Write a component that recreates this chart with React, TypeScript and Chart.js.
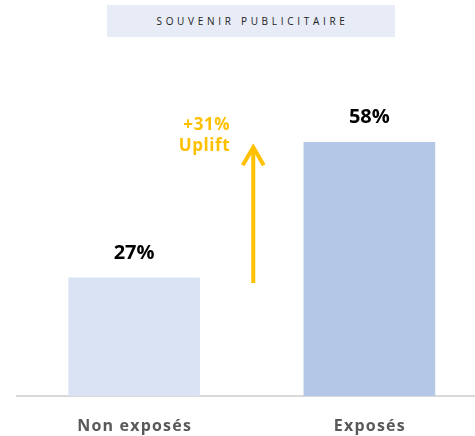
import React, { useEffect, useRef } from "react";
import { Chart, registerables } from "chart.js";

Chart.register(...registerables);

const title = "SOUVENIR PUBLICITAIRE";
const categories = ["Non exposés", "Exposés"];
const values = [27, 58];
const valueLabels = ["27%", "58%"];
const upliftLabels = ["+31%", "Uplift"];
const barColors = ["#DAE3F3", "#B4C7E7"];

const overlay = {
  id: "overlay",
  afterDraw(chart: any) {
    const ctx = chart.ctx;
    const meta = chart.getDatasetMeta(0);
    const x = chart.scales.x;
    const y = chart.scales.y;
    ctx.save();
    // value labels
    ctx.fillStyle = "#000000";
    ctx.font = "bold 20px 'Open Sans'";
    ctx.textAlign = "center";
    ctx.textBaseline = "middle";
    meta.data.forEach((bar: any, i: number) => {
      ctx.fillText(valueLabels[i], bar.x, bar.y - 25);
    });
    // category labels
    ctx.fillStyle = "#595959";
    ctx.font = "bold 16px 'Open Sans'";
    (ctx as any).letterSpacing = "1.2px";
    categories.forEach((c, i) => {
      ctx.fillText(c, x.getPixelForValue(i) + 0.5, chart.chartArea.bottom + 30);
    });
    (ctx as any).letterSpacing = "0px";
    // arrow
    const ax = x.getPixelForValue(0.5) + 1.5;
    const yBottom = y.getPixelForValue(values[0]) + 5;
    const yTop = y.getPixelForValue(values[1]) + 3;
    ctx.strokeStyle = "#FFC000";
    ctx.lineWidth = 4;
    ctx.lineCap = "butt";
    ctx.beginPath();
    ctx.moveTo(ax, yBottom);
    ctx.lineTo(ax, yTop + 2);
    ctx.stroke();
    ctx.beginPath();
    ctx.lineJoin = "miter";
    ctx.moveTo(ax - 10.5, yTop + 20);
    ctx.lineTo(ax, yTop + 2);
    ctx.lineTo(ax + 10.5, yTop + 20);
    ctx.stroke();
    // uplift text
    ctx.fillStyle = "#FFC000";
    ctx.font = "bold 17px 'Open Sans'";
    ctx.textAlign = "right";
    (ctx as any).letterSpacing = "0.6px";
    ctx.fillText(upliftLabels[0], ax - 23, yTop - 20);
    ctx.fillText(upliftLabels[1], ax - 23, yTop + 1);
    (ctx as any).letterSpacing = "0px";
    ctx.restore();
  },
};

export default function App() {
  const ref = useRef<HTMLCanvasElement>(null);
  useEffect(() => {
    const chart = new Chart(ref.current!, {
      type: "bar",
      data: {
        labels: categories,
        datasets: [
          {
            data: values,
            backgroundColor: barColors,
            barThickness: 131,
          },
        ],
      },
      options: {
        animation: false,
        responsive: false,
        devicePixelRatio: 1,
        layout: { padding: { left: 16.5, right: 0, top: 46, bottom: 0 } },
        plugins: { legend: { display: false }, tooltip: { enabled: false } },
        scales: {
          x: {
            grid: { display: false, drawTicks: false },
            border: { display: true, color: "#D9D9D9", width: 2 },
            ticks: { display: false },
            afterFit: (s: any) => {
              s.height = 40;
            },
          },
          y: { display: false, min: 0, max: 80 },
        },
      },
      plugins: [overlay],
    });
    return () => chart.destroy();
  }, []);
  return (
    <div style={{ position: "absolute", left: 0, top: 0, width: 475, height: 436, overflow: "hidden", background: "#fff" }}>
      <canvas ref={ref} width={487} height={436} style={{ position: "absolute", left: 0, top: 0 }} />
      <div
        style={{
          position: "absolute",
          left: 107,
          top: 5,
          width: 288,
          height: 32,
          background: "#E8ECF7",
          color: "#222222",
          fontFamily: "'Open Sans'",
          fontSize: 10,
          letterSpacing: "3.7px",
          lineHeight: "32px",
          textAlign: "center",
          paddingLeft: 3,
          boxSizing: "border-box",
        }}
      >
        {title}
      </div>
    </div>
  );
}
